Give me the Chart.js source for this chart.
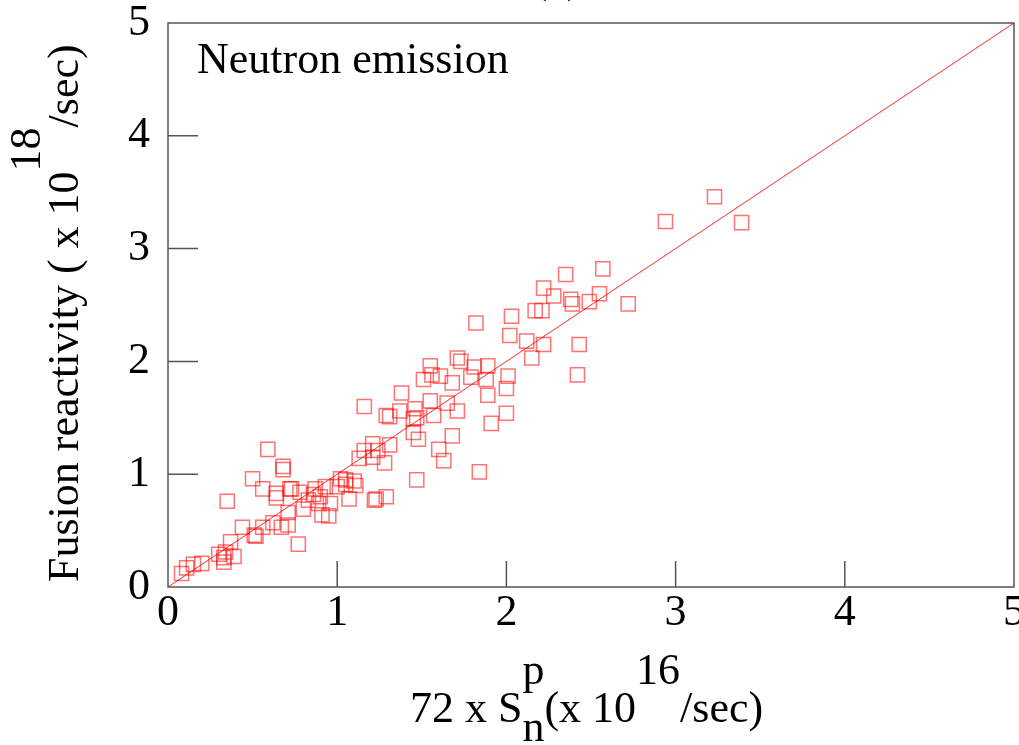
<!DOCTYPE html>
<html lang="en">
<head>
    <meta charset="UTF-8">
    <title>Neutron emission</title>
    <script src="https://cdn.jsdelivr.net/npm/chart.js@4.4.0/dist/chart.umd.min.js"></script>
    <style>
        body { margin: 0; background: #fff; }
    </style>
</head>
<body>
    <canvas id="chart" width="1019" height="745"></canvas>

    <script>
        // 72 x S_n^p (x 10^16/sec)
        const sn = [3.23, 2.94, 3.39, 2.57, 2.35, 2.22, 2.28, 2.38, 2.39, 2.49,
                    2.55, 2.72, 2.03, 2.17, 2.21, 1.82, 2.02, 2.12, 2.22, 2.43,
                    2.15, 2.42, 1.71, 1.73, 1.55, 1.81, 1.89, 1.56, 1.51, 1.61,
                    1.68, 1.79, 1.88, 2.01, 2.00, 1.89, 1.38, 1.55, 1.65, 1.71,
                    2.00, 1.91, 1.16, 1.29, 1.31, 1.37, 1.46, 1.45, 1.47, 1.57,
                    1.45, 1.48, 1.68, 1.31, 1.21, 1.24, 1.16, 1.60, 1.63, 1.13,
                    1.21, 1.28, 1.84, 1.47, 0.59, 0.68, 0.68, 0.50, 0.56, 0.64,
                    0.64, 0.72, 0.73, 0.78, 0.87, 0.93, 1.02, 1.05, 1.10, 1.05,
                    1.11, 1.07, 1.23, 1.22, 1.29, 0.86, 0.83, 0.89, 0.96, 0.80,
                    0.91, 0.95, 0.71, 0.35, 0.44, 0.56, 0.51, 0.52, 0.62, 0.67,
                    0.71, 0.77, 0.37, 0.34, 0.30, 0.39, 0.33, 0.33, 0.20, 0.15,
                    0.11, 0.08, 0.90, 1.00];
        // fusion reactivity (x 10^18/sec)
        const reactivity = [3.46, 3.24, 3.23, 2.82, 2.77, 2.65, 2.58, 2.55, 2.51, 2.53,
                    2.60, 2.51, 2.40, 2.45, 2.45, 2.34, 2.23, 2.18, 2.15, 2.15,
                    2.03, 1.88, 2.03, 2.00, 1.96, 1.95, 1.96, 1.88, 1.84, 1.87,
                    1.81, 1.86, 1.84, 1.87, 1.76, 1.70, 1.72, 1.65, 1.63, 1.56,
                    1.54, 1.45, 1.60, 1.52, 1.51, 1.56, 1.58, 1.49, 1.50, 1.52,
                    1.37, 1.31, 1.34, 1.26, 1.27, 1.21, 1.21, 1.22, 1.12, 1.14,
                    1.15, 1.10, 1.02, 0.95, 1.22, 1.07, 1.04, 0.96, 0.87, 0.83,
                    0.79, 0.87, 0.87, 0.84, 0.87, 0.89, 0.96, 0.95, 0.94, 0.91,
                    0.90, 0.78, 0.78, 0.77, 0.80, 0.82, 0.77, 0.74, 0.74, 0.69,
                    0.64, 0.63, 0.66, 0.76, 0.53, 0.53, 0.46, 0.45, 0.57, 0.53,
                    0.55, 0.38, 0.40, 0.31, 0.29, 0.27, 0.22, 0.26, 0.21, 0.20,
                    0.17, 0.12, 0.80, 0.89];
        const lineX = [0, 5];
        const lineY = [0, 5];
        const tickVals = [0, 1, 2, 3, 4, 5];

        const FONT = '"Liberation Serif", "DejaVu Serif", serif';
        const FS = 44;

        const points = sn.map((v, i) => ({x: v, y: reactivity[i]}));
        const linePts = lineX.map((v, i) => ({x: v, y: lineY[i]}));

        // frame, inward ticks and text with super/subscripts
        const decor = {
            id: 'decor',
            afterDraw(chart) {
                const ctx = chart.ctx;
                const a = chart.chartArea;
                const xs = chart.scales.x, ys = chart.scales.y;
                ctx.save();
                ctx.strokeStyle = '#555';
                ctx.lineWidth = 1.5;
                ctx.strokeRect(a.left, a.top, a.right - a.left, a.bottom - a.top);
                ctx.beginPath();
                for (let t = 1; t < 5; t++) {
                    const px = xs.getPixelForValue(t);
                    ctx.moveTo(px, a.bottom);
                    ctx.lineTo(px, a.bottom - 26);
                    const py = ys.getPixelForValue(t);
                    ctx.moveTo(a.left, py);
                    ctx.lineTo(a.left + 30, py);
                }
                ctx.stroke();

                ctx.fillStyle = '#000';
                ctx.textBaseline = 'alphabetic';
                ctx.textAlign = 'left';
                ctx.font = FS + 'px ' + FONT;
                ctx.fillText('Neutron emission', 197, 73);
                ctx.textAlign = 'center';
                ctx.fillText('(a)', 557, -8);
                ctx.textAlign = 'left';

                // x title
                let x = 410;
                const base = 722;
                ctx.fillText('72 x S', x, base);
                x += ctx.measureText('72 x S').width;
                ctx.fillText('p', x, base - 38);
                ctx.fillText('n', x, base + 19);
                x += ctx.measureText('n').width;
                ctx.fillText('(x 10', x, base);
                x += ctx.measureText('(x 10').width;
                ctx.fillText('16', x, base - 38);
                x += ctx.measureText('16').width;
                ctx.fillText('/sec)', x, base);

                // y title
                ctx.translate(78, 582);
                ctx.rotate(-Math.PI / 2);
                let y = 0;
                ctx.fillText('Fusion reactivity ( x 10', y, 0);
                y += ctx.measureText('Fusion reactivity ( x 10').width;
                ctx.fillText('18', y, -38);
                y += ctx.measureText('18').width;
                ctx.fillText('/sec)', y, 0);
                ctx.restore();
            }
        };

        const ctx = document.getElementById('chart').getContext('2d');
        const myChart = new Chart(ctx, {
            type: 'scatter',
            data: {
                datasets: [{
                    label: 'Neutron emission',
                    data: points,
                    pointStyle: 'rect',
                    pointRadius: 10,
                    borderColor: 'rgba(255, 0, 0, 0.55)',
                    backgroundColor: 'rgba(0, 0, 0, 0)',
                    borderWidth: 1.5
                },
                {
                    type: 'line',
                    label: 'fit',
                    data: linePts,
                    borderColor: 'rgba(255, 0, 0, 0.85)',
                    borderWidth: 1,
                    pointRadius: 0,
                    fill: false
                }]
            },
            options: {
                responsive: false,
                animation: false,
                layout: { autoPadding: false, padding: { top: 23, right: 5, left: 0, bottom: 0 } },
                plugins: {
                    legend: { display: false },
                    tooltip: { enabled: false }
                },
                scales: {
                    x: {
                        type: 'linear', min: 0, max: 5,
                        afterBuildTicks: s => { s.ticks = tickVals.map(v => ({value: v})); },
                        afterFit: s => { s.height = 158; s.paddingLeft = 0; s.paddingRight = 0; },
                        grid: { display: false, drawTicks: false },
                        border: { display: false },
                        ticks: { padding: 0, color: '#000', font: { family: FONT, size: FS } }
                    },
                    y: {
                        type: 'linear', min: 0, max: 5,
                        afterBuildTicks: s => { s.ticks = tickVals.map(v => ({value: v})); },
                        afterFit: s => { s.width = 168; s.paddingTop = 0; s.paddingBottom = 0; },
                        grid: { display: false, drawTicks: false },
                        border: { display: false },
                        ticks: { padding: 18, color: '#000', font: { family: FONT, size: FS } }
                    }
                }
            },
            plugins: [decor]
        });
    </script>
</body>
</html>
